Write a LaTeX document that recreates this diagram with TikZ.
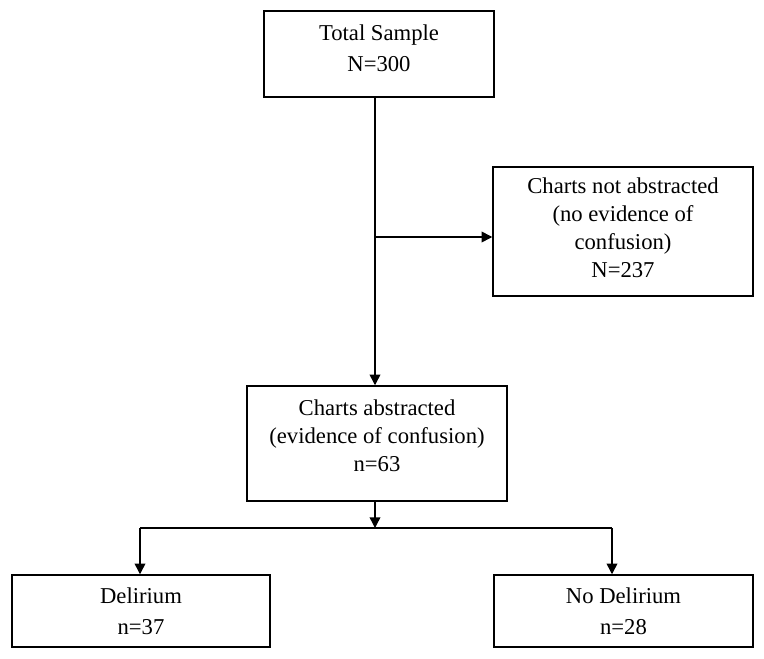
\documentclass[tikz,border=0pt]{standalone}
\usepackage{fontspec}
\setmainfont{Liberation Serif}
\usetikzlibrary{arrows.meta}
\begin{document}
\begin{tikzpicture}[x=0.75pt,y=-0.75pt,
  box/.style={draw,line width=1.1pt,align=center,inner sep=0pt,font=\fontsize{17}{21}\selectfont},
  conn/.style={line width=1.1pt},
  arr/.style={conn,-{Triangle[length=8pt,width=8pt]}}]
\useasboundingbox (0,0) rectangle (764,659);
\node[box,minimum width=172.5pt,minimum height=64.5pt,text depth=9pt] (total) at (379,54) {Total Sample\\[2pt]N=300};
\node[box,minimum width=195pt,minimum height=96.75pt,text depth=6pt] (notabs) at (623,231.5) {Charts not abstracted\\(no evidence of\\confusion)\\N=237};
\node[box,minimum width=195pt,minimum height=86.25pt,text depth=12pt] (abstr) at (377,443.5) {Charts abstracted\\(evidence of confusion)\\n=63};
\node[box,minimum width=193.5pt,minimum height=54pt] (delir) at (141,611) {Delirium\\[2pt]n=37};
\node[box,minimum width=194pt,minimum height=54pt] (nodel) at (623.5,611) {No Delirium\\[2pt]n=28};
\coordinate (trunk) at (375,237);
\coordinate (split) at (375,528);
\coordinate (lft) at (140,528);
\coordinate (rgt) at (612,528);
\draw[arr] (total.south -| trunk) -- (abstr.north -| trunk);
\draw[arr] (trunk) -- (trunk -| notabs.west);
\draw[arr] (abstr.south -| split) -- (split);
\draw[conn] (lft) -- (rgt);
\draw[arr] (lft) -- (lft |- delir.north);
\draw[arr] (rgt) -- (rgt |- nodel.north);
\end{tikzpicture}
\end{document}
